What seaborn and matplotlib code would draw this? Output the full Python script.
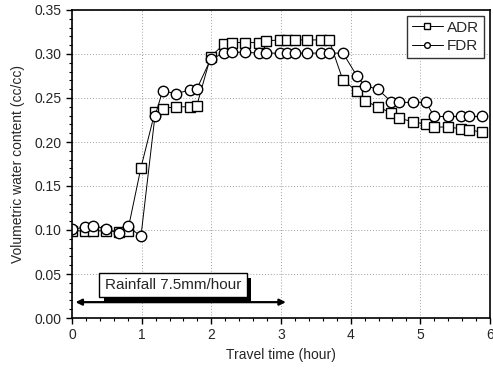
import numpy as np
import pandas as pd
import matplotlib
matplotlib.use("Agg")
import matplotlib.pyplot as plt
import matplotlib.patheffects as pe
from matplotlib.ticker import MultipleLocator, FormatStrFormatter
import seaborn as sns

time_h = [0, 0.18, 0.30, 0.49, 0.68, 0.80, 0.99, 1.19, 1.30, 1.49, 1.69, 1.79,
          1.99, 2.18, 2.29, 2.49, 2.68, 2.79, 2.99, 3.09, 3.20, 3.38, 3.57, 3.69,
          3.89, 4.09, 4.20, 4.39, 4.58, 4.69, 4.90, 5.08, 5.20, 5.40, 5.59, 5.70, 5.89]
adr = [0.099, 0.099, 0.099, 0.099, 0.098, 0.099, 0.171, 0.234, 0.238, 0.240, 0.240, 0.241,
       0.297, 0.311, 0.313, 0.313, 0.313, 0.315, 0.316, 0.316, 0.316, 0.316, 0.316, 0.316,
       0.270, 0.258, 0.247, 0.240, 0.233, 0.227, 0.223, 0.220, 0.217, 0.217, 0.215, 0.214, 0.211]
fdr = [0.101, 0.103, 0.105, 0.101, 0.097, 0.104, 0.093, 0.229, 0.258, 0.255, 0.259, 0.260,
       0.294, 0.301, 0.302, 0.302, 0.301, 0.301, 0.301, 0.301, 0.301, 0.301, 0.301, 0.301,
       0.301, 0.275, 0.264, 0.260, 0.246, 0.245, 0.245, 0.245, 0.229, 0.229, 0.229, 0.229, 0.229]
series_names = ["ADR", "FDR"]
x_label = "Travel time (hour)"
y_label = "Volumetric water content (cc/cc)"
rain_label = "Rainfall 7.5mm/hour"
rain_start, rain_end = 0.05, 3.07

sns.set_style("ticks")
plt.rcParams["font.family"] = ["Liberation Sans", "DejaVu Sans"]

fig = plt.figure(figsize=(4.93, 3.68), dpi=100)
left, right, top, bottom = 72.0 / 493, 490.0 / 493, 1 - 10.0 / 368, 1 - 318.0 / 368
ax = fig.add_axes([left, bottom, right - left, top - bottom])

df = pd.DataFrame({"t": time_h, "ADR": adr, "FDR": fdr})
for name, mk in zip(series_names, ["s", "o"]):
    sns.lineplot(data=df, x="t", y=name, ax=ax, label=name, color="black",
                 marker=mk, markersize=7.5, markerfacecolor="white",
                 markeredgecolor="black", markeredgewidth=1.0, linewidth=0.7)

ax.set_xlim(0, 6)
ax.set_ylim(0, 0.35)
ax.xaxis.set_major_locator(MultipleLocator(1))
ax.xaxis.set_minor_locator(MultipleLocator(0.2))
ax.yaxis.set_major_locator(MultipleLocator(0.05))
ax.yaxis.set_minor_locator(MultipleLocator(0.01))
ax.yaxis.set_major_formatter(FormatStrFormatter("%.2f"))
ax.tick_params(which="major", direction="out", length=4, width=1, labelsize=10, color="black")
ax.tick_params(which="minor", direction="out", length=2, width=0.8, color="black")
ax.grid(True, which="major", linestyle=(0, (1, 2)), color="#a0a0a0", linewidth=0.7)
for s in ax.spines.values():
    s.set_color("black")
    s.set_linewidth(1.2)
ax.set_xlabel(x_label, fontsize=10, labelpad=4)
ax.set_ylabel(y_label, fontsize=10, labelpad=7)

leg = ax.legend(loc="upper right", fontsize=11, frameon=True, fancybox=False,
                markerscale=0.55, handlelength=2.0, handletextpad=0.3,
                borderpad=0.3, labelspacing=0.3, borderaxespad=0.4)
leg.get_frame().set_edgecolor("black")
leg.get_frame().set_linewidth(1.0)

ax.annotate("", xy=(rain_start, 0.018), xytext=(rain_end, 0.018),
            arrowprops=dict(arrowstyle="<|-|>", color="black", lw=1.6,
                            mutation_scale=9, shrinkA=0, shrinkB=0))
txt = ax.text(1.45, 0.0375, rain_label, ha="center", va="center", fontsize=11,
              bbox=dict(boxstyle="square,pad=0.35", facecolor="white",
                        edgecolor="black", linewidth=1.0))
txt.get_bbox_patch().set_path_effects([
    pe.SimplePatchShadow(offset=(3.5, -3.5), shadow_rgbFace="black", alpha=1.0),
    pe.Normal()])

fig.savefig("out.png", dpi=100)
